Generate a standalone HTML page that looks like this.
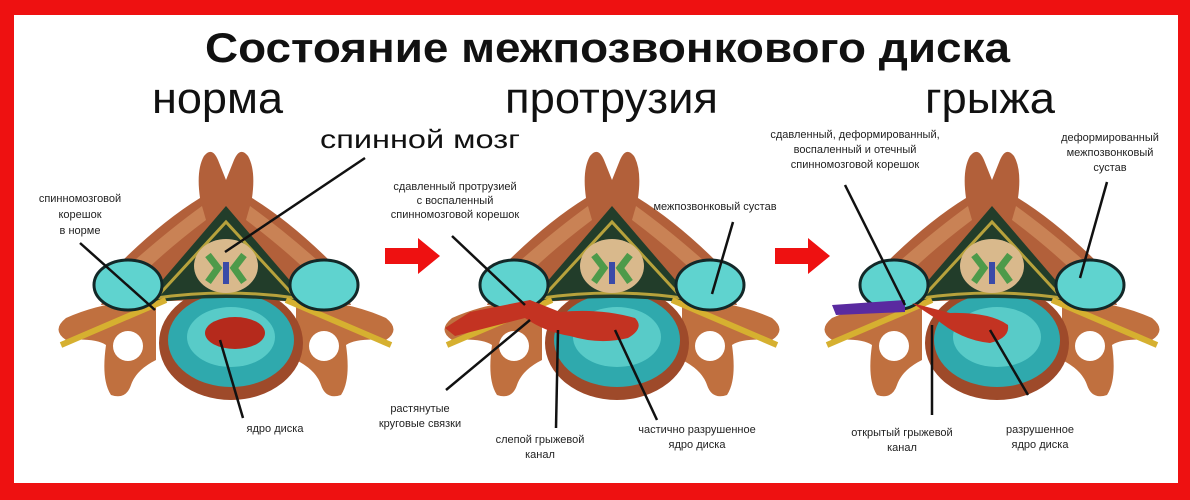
<!DOCTYPE html>
<html><head><meta charset="utf-8"><style>
html,body{margin:0;padding:0;background:#fff}
svg{display:block}
text{font-family:"Liberation Sans",sans-serif;fill:#111}
.s{font-size:11px;text-anchor:middle;fill:#222}
</style></head><body>
<svg width="1190" height="500" viewBox="0 0 1190 500" xmlns="http://www.w3.org/2000/svg">
<defs>
<g id="v">
  <path d="M-70,300 Q-120,300 -160,318 Q-175,330 -160,340 Q-130,338 -120,345 Q-125,380 -115,395 Q-100,400 -95,385 Q-90,370 -70,360 Z" fill="#c0703f"/>
  <path d="M70,300 Q120,300 160,318 Q175,330 160,340 Q130,338 120,345 Q125,380 115,395 Q100,400 95,385 Q90,370 70,360 Z" fill="#c0703f"/>
  <circle cx="-98" cy="346" r="15" fill="#fff"/>
  <circle cx="98" cy="346" r="15" fill="#fff"/>
  <path d="M-125,305 L-108,265 Q-65,222 -26,198 Q-30,170 -22,156 Q-14,146 -8,160 L0,180 L8,160 Q14,146 22,156 Q30,170 26,198 Q65,222 108,265 L125,305 Q60,300 0,300 Q-60,300 -125,305 Z" fill="#b2603a"/>
  <path d="M-100,268 Q-60,232 -24,206 L-20,220 Q-60,250 -90,280 Z M100,268 Q60,232 24,206 L20,220 Q60,250 90,280 Z" fill="#c98255"/>
  <ellipse cx="5" cy="343" rx="72" ry="57" fill="#9e4a2a"/>
  <ellipse cx="5" cy="340" rx="63" ry="47" fill="#2fa9ad"/>
  <ellipse cx="5" cy="337" rx="44" ry="30" fill="#58cbc8"/>
  <path d="M-84,304 L0,206 L84,304 Q0,292 -84,304 Z" fill="#223d2a"/>
  <path d="M-70,298 L0,222 L70,298 Q0,288 -70,298 Z" fill="none" stroke="#b7a23c" stroke-width="3"/>
  <ellipse cx="0" cy="266" rx="32" ry="27" fill="#d9b98c"/>
  <path d="M-18,255 L-8,268 L-18,282 M18,255 L8,268 L18,282" stroke="#4d9a4a" stroke-width="7" fill="none"/>
  <rect x="-3" y="262" width="6" height="22" fill="#3a4aa8"/>
  <path d="M-60,300 L-165,345" stroke="#d6b030" stroke-width="6"/>
  <path d="M60,300 L165,345" stroke="#d6b030" stroke-width="6"/>
  <ellipse cx="-98" cy="285" rx="34" ry="25" fill="#5fd3cf" stroke="#132828" stroke-width="3"/>
  <ellipse cx="98" cy="285" rx="34" ry="25" fill="#5fd3cf" stroke="#132828" stroke-width="3"/>
</g>
</defs>
<rect x="0" y="0" width="1190" height="500" fill="#ee1111"/>
<rect x="14" y="15" width="1164" height="468" fill="#fff"/>

<text x="205" y="62" font-size="42" font-weight="bold" textLength="805" lengthAdjust="spacingAndGlyphs">Состояние межпозвонкового диска</text>
<text x="152" y="113" font-size="44" textLength="131" lengthAdjust="spacingAndGlyphs">норма</text>
<text x="505" y="113" font-size="44" textLength="213" lengthAdjust="spacingAndGlyphs">протрузия</text>
<text x="925" y="113" font-size="44" textLength="130" lengthAdjust="spacingAndGlyphs">грыжа</text>
<text x="320" y="148" font-size="26" textLength="200" lengthAdjust="spacingAndGlyphs">спинной мозг</text>

<use href="#v" transform="translate(226,0)"/>
<use href="#v" transform="translate(612,0)"/>
<use href="#v" transform="translate(992,0)"/>

<ellipse cx="235" cy="333" rx="30" ry="16" fill="#b52a1c"/>
<path d="M530,300 L470,312 L445,328 L455,336 L525,318 Q545,332 570,336 Q600,345 628,338 Q645,328 635,318 Q600,308 560,312 Z" fill="#c33322"/>
<path d="M905,300 L832,305 L836,315 L905,312 Z" fill="#5a2aa0"/>
<path d="M912,303 L935,318 Q960,340 990,343 Q1010,338 1008,325 Q990,312 950,313 Z" fill="#c33322"/>

<path d="M385,248 L418,248 L418,238 L440,256 L418,274 L418,264 L385,264 Z" fill="#ee1111"/>
<path d="M775,248 L808,248 L808,238 L830,256 L808,274 L808,264 L775,264 Z" fill="#ee1111"/>

<g stroke="#111" stroke-width="2.5" fill="none">
<line x1="80" y1="243" x2="155" y2="310"/>
<line x1="365" y1="158" x2="225" y2="252"/>
<line x1="220" y1="340" x2="243" y2="418"/>
<line x1="452" y1="236" x2="525" y2="305"/>
<line x1="733" y1="222" x2="712" y2="294"/>
<line x1="446" y1="390" x2="530" y2="320"/>
<line x1="558" y1="330" x2="556" y2="428"/>
<line x1="615" y1="330" x2="657" y2="420"/>
<line x1="845" y1="185" x2="905" y2="305"/>
<line x1="1107" y1="182" x2="1080" y2="278"/>
<line x1="932" y1="325" x2="932" y2="415"/>
<line x1="990" y1="330" x2="1028" y2="395"/>
</g>

<text class="s"><tspan x="80" y="202">спинномозговой</tspan><tspan x="80" y="218">корешок</tspan><tspan x="80" y="234">в норме</tspan></text>
<text class="s" x="275" y="432">ядро диска</text>
<text class="s"><tspan x="455" y="190">сдавленный протрузией</tspan><tspan x="455" y="204">с воспаленный</tspan><tspan x="455" y="218">спинномозговой корешок</tspan></text>
<text class="s" x="715" y="210">межпозвонковый сустав</text>
<text class="s"><tspan x="420" y="412">растянутые</tspan><tspan x="420" y="427">круговые связки</tspan></text>
<text class="s"><tspan x="540" y="443">слепой грыжевой</tspan><tspan x="540" y="458">канал</tspan></text>
<text class="s"><tspan x="697" y="433">частично разрушенное</tspan><tspan x="697" y="448">ядро диска</tspan></text>
<text class="s"><tspan x="855" y="138">сдавленный, деформированный,</tspan><tspan x="855" y="153">воспаленный и отечный</tspan><tspan x="855" y="168">спинномозговой корешок</tspan></text>
<text class="s"><tspan x="1110" y="141">деформированный</tspan><tspan x="1110" y="156">межпозвонковый</tspan><tspan x="1110" y="171">сустав</tspan></text>
<text class="s"><tspan x="902" y="436">открытый грыжевой</tspan><tspan x="902" y="451">канал</tspan></text>
<text class="s"><tspan x="1040" y="433">разрушенное</tspan><tspan x="1040" y="448">ядро диска</tspan></text>
</svg>
</body></html>
